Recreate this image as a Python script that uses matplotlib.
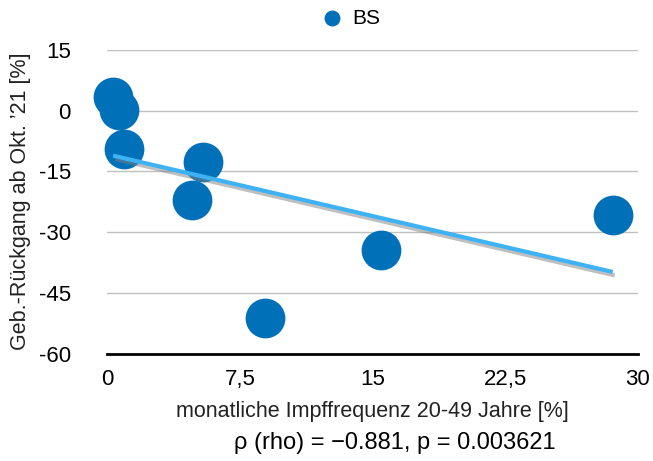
import numpy as np
import matplotlib
matplotlib.use('Agg')
import matplotlib.pyplot as plt
import matplotlib.patheffects as pe
from matplotlib.ticker import FuncFormatter

plt.rcParams['font.family'] = ['Liberation Sans', 'DejaVu Sans']
plt.rcParams['axes.unicode_minus'] = False

# data
impf = [0.34, 0.68, 0.96, 5.42, 4.8, 15.5, 8.93, 28.57]
rueckgang = [3.3, 0.1, -9.5, -12.7, -22.1, -34.4, -51.1, -25.8]
x_ticks = [0, 7.5, 15, 22.5, 30]
y_ticks = [-60, -45, -30, -15, 0, 15]

fig = plt.figure(figsize=(6.53, 4.61), dpi=100)
ax = fig.add_axes([0.164, 0.232, 0.813, 0.66])

ax.scatter(impf, rueckgang, s=820, color='#0070B8', zorder=3,
           clip_on=False, label='BS', linewidths=0)

# linear trend line
m, b = np.polyfit(impf, rueckgang, 1)
xs = np.array([min(impf), max(impf)])
ax.plot(xs, m * xs + b, color='#3DB2F5', lw=3, zorder=4, solid_capstyle='butt',
        path_effects=[pe.SimpleLineShadow(offset=(1.5, -2.5), shadow_color='gray', alpha=0.5),
                      pe.Normal()])

ax.set_xlim(0, 30)
ax.set_ylim(-60, 15)
ax.set_xticks(x_ticks)
ax.set_yticks(y_ticks)
ax.xaxis.set_major_formatter(FuncFormatter(lambda v, p: ('%g' % v).replace('.', ',')))
ax.tick_params(length=0, labelsize=16)
ax.tick_params(axis='y', pad=26)
ax.tick_params(axis='x', pad=11)

ax.grid(axis='y', color='#C0C0C0', lw=1)
ax.set_axisbelow(True)
for s in ['top', 'right', 'left']:
    ax.spines[s].set_visible(False)
ax.spines['bottom'].set_linewidth(2)
ax.spines['bottom'].set_color('black')

fig.text(0.031, 0.564, 'Geb.-Rückgang ab Okt. ’21 [%]', fontsize=15.5, color='#222222',
         rotation=90, ha='center', va='center')
fig.text(0.571, 0.107, 'monatliche Impffrequenz 20-49 Jahre [%]', fontsize=15.5,
         color='#222222', ha='center', va='center')
fig.text(0.605, 0.04, 'ρ (rho) = −0.881, p = 0.003621', fontsize=17, ha='center', va='center')

fig.legend(loc='center', bbox_to_anchor=(0.536, 0.96), frameon=False, fontsize=15,
           markerscale=0.4, handletextpad=0.4, handlelength=1.2)

fig.savefig('out.png', dpi=100)
